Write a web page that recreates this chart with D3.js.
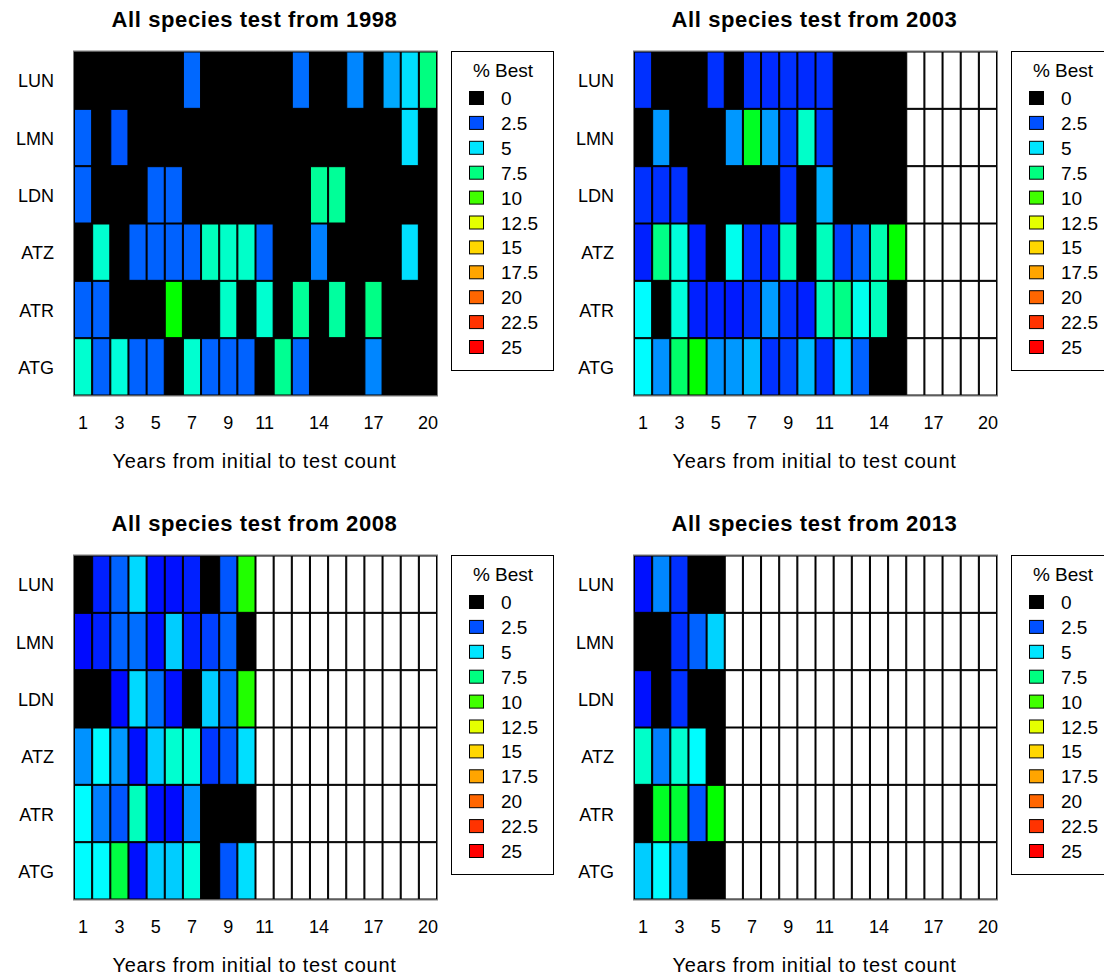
<!DOCTYPE html>
<html>
<head>
<meta charset="utf-8">
<script src="https://cdn.jsdelivr.net/npm/d3@7"></script>
<style>
  html, body { margin: 0; padding: 0; background: #fff; }
  svg { display: block; font-family: "Liberation Sans", Arial, sans-serif; }
</style>
</head>
<body>
<svg id="chart" width="1104" height="976"></svg>
<script>
// ---------- data ----------
const species = ["LUN", "LMN", "LDN", "ATZ", "ATR", "ATG"];
const years = [1,2,3,4,5,6,7,8,9,10,11,12,13,14,15,16,17,18,19,20];
const tickLabels = [1, 3, 5, 7, 9, 11, 14, 17, 20];
const startYears = [1998, 2003, 2008, 2013];
const legendValues = [0, 2.5, 5, 7.5, 10, 12.5, 15, 17.5, 20, 22.5, 25];
const legendColors = ["#000000", "#0050ff", "#00e5ff", "#00ff80", "#40ff00", "#e5ff00",
                      "#ffd700", "#ffa500", "#ff6600", "#ff3300", "#ff0000"];

// % best values, rows = species, columns = years 1..20 (null = no data)
const best1998 = [
  [0,0,0,0,0,0,2.9,0,0,0,0,0,3.0,0,0,3.4,0,4.0,4.9,7.5],
  [2.8,0,2.6,0,0,0,0,0,0,0,0,0,0,0,0,0,0,0,4.9,0],
  [2.8,0,0,0,2.8,2.8,0,0,0,0,0,0,0,7.1,7.1,0,0,0,0,0],
  [0,6.2,0,2.8,2.8,2.8,2.8,6.5,6.3,6.3,2.8,0,0,3.3,0,0,0,0,4.9,0],
  [2.8,2.8,0,0,0,9.2,0,0,6.3,0,6.2,0,7.1,0,7.0,0,7.4,0,0,0],
  [6.2,2.8,6.0,2.8,2.8,0,6.2,2.8,2.8,2.8,0,7.2,2.9,0,0,0,3.4,0,0,0]
];
const best2003 = [
  [1.5,0,0,0,1.5,0,1.5,1.3,1.5,1.3,1.5,0,0,0,0,null,null,null,null,null],
  [0,3.7,0,0,0,3.7,8.7,3.8,1.7,6.3,1.7,0,0,0,0,null,null,null,null,null],
  [1.5,1.5,1.5,0,0,0,0,0,1.5,0,4.1,0,0,0,0,null,null,null,null,null],
  [1.0,7.4,6.0,1.0,0,5.7,1.5,1.3,6.5,0,6.5,2.0,2.8,6.7,9.2,null,null,null,null,null],
  [5.4,0,6.0,1.0,1.0,0.8,1.5,3.8,1.5,1.0,6.5,7.4,5.7,6.5,0,null,null,null,null,null],
  [5.4,3.6,7.8,9.2,3.6,3.7,4.3,1.5,2.0,4.3,1.5,4.9,2.8,0,0,null,null,null,null,null]
];
const best2008 = [
  [0,1.0,2.8,4.8,0.5,0.5,1.0,0,2.6,9.6,null,null,null,null,null,null,null,null,null,null],
  [0.3,1.0,2.8,3.0,0.5,4.6,1.0,2.0,2.8,0,null,null,null,null,null,null,null,null,null,null],
  [0,0,0.3,4.8,3.0,0.5,0,4.6,2.8,9.6,null,null,null,null,null,null,null,null,null,null],
  [3.6,5.4,3.7,0.5,4.6,6.2,6.0,1.7,2.6,4.9,null,null,null,null,null,null,null,null,null,null],
  [5.4,3.3,2.6,6.5,0.5,0.3,3.6,0,0,0,null,null,null,null,null,null,null,null,null,null],
  [5.4,5.4,8.3,0.5,4.6,4.6,6.0,0,2.6,4.9,null,null,null,null,null,null,null,null,null,null]
];
const best2013 = [
  [0.5,3.4,1.5,0,0,null,null,null,null,null,null,null,null,null,null,null,null,null,null,null],
  [0,0,1.5,2.8,4.7,null,null,null,null,null,null,null,null,null,null,null,null,null,null,null],
  [0.5,0,1.5,0,0,null,null,null,null,null,null,null,null,null,null,null,null,null,null,null],
  [6.3,3.3,6.2,5.4,0,null,null,null,null,null,null,null,null,null,null,null,null,null,null,null],
  [0,8.7,8.5,2.6,9.2,null,null,null,null,null,null,null,null,null,null,null,null,null,null,null],
  [4.6,5.4,4.1,0,0,null,null,null,null,null,null,null,null,null,null,null,null,null,null,null]
];
const panelData = [best1998, best2003, best2008, best2013];

// ---------- colour ----------
const ramp = d3.scaleLinear()
  .domain(legendValues)
  .range(["#0000ff"].concat(legendColors.slice(1)))
  .interpolate(d3.interpolateHsl)
  .clamp(true);
function cellColor(v) {
  if (v === null || v === undefined) return "#ffffff";
  if (v === 0) return "#000000";
  return ramp(v);
}

// ---------- layout ----------
const svg = d3.select("#chart");
const plotW = 363, plotH = 344;
const panelOffsets = [[74, 51.5], [634, 51.5], [74, 555.5], [634, 555.5]];
const FONT = "Liberation Sans, Arial, sans-serif";

const x = d3.scaleBand().domain(years).range([0, plotW]);
const y = d3.scaleBand().domain(species).range([0, plotH]);

startYears.forEach((yr, p) => {
  const [ox, oy] = panelOffsets[p];
  const g = svg.append("g").attr("transform", `translate(${ox},${oy})`);
  const data = panelData[p];

  // title
  g.append("text")
    .attr("x", plotW / 2 - 1).attr("y", -24.5)
    .attr("text-anchor", "middle")
    .attr("font-weight", "bold").attr("font-size", 22)
    .attr("letter-spacing", 0.6)
    .attr("fill", "#000")
    .text("All species test from " + yr);

  // black underlay so cell seams stay solid
  g.append("rect")
    .attr("x", 0).attr("y", 0)
    .attr("width", plotW).attr("height", plotH)
    .attr("fill", "#000");

  // cells
  const cells = [];
  species.forEach((s, i) => years.forEach((c, j) => cells.push({ s, c, v: data[i][j] })));
  g.selectAll("rect.cell").data(cells).join("rect")
    .attr("class", "cell")
    .attr("x", d => x(d.c) + 0.5)
    .attr("y", d => y(d.s) + 0.5)
    .attr("width", x.bandwidth() - 1)
    .attr("height", y.bandwidth() - 1)
    .attr("fill", d => cellColor(d.v))
    .attr("stroke", "#000")
    .attr("stroke-width", 1);

  // frame
  g.append("rect")
    .attr("x", -0.5).attr("y", -0.5)
    .attr("width", plotW + 1).attr("height", plotH + 1)
    .attr("fill", "none").attr("stroke", "#7a7a7a").attr("stroke-width", 1);

  // y axis
  const ya = g.append("g").attr("transform", "translate(-20,1.5)")
    .call(d3.axisLeft(y).tickSize(0).tickPadding(0));
  ya.select(".domain").remove();
  ya.selectAll("text").attr("font-size", 18).attr("font-family", FONT).attr("fill", "#000");

  // x axis
  const xa = g.append("g").attr("transform", `translate(0,${plotH + 21})`)
    .call(d3.axisBottom(x).tickValues(tickLabels).tickSize(0).tickPadding(0));
  xa.select(".domain").remove();
  xa.selectAll("text").attr("font-size", 18).attr("font-family", FONT).attr("fill", "#000");

  // x title
  g.append("text")
    .attr("x", plotW / 2 - 1).attr("y", plotH + 72)
    .attr("text-anchor", "middle")
    .attr("font-size", 20).attr("letter-spacing", 0.7).attr("fill", "#000")
    .text("Years from initial to test count");

  // legend
  const lg = g.append("g").attr("transform", `translate(${plotW + 14},-0.5)`);
  lg.append("rect")
    .attr("x", 0.5).attr("y", 0.5)
    .attr("width", 102).attr("height", 319)
    .attr("fill", "#fff").attr("stroke", "#000").attr("stroke-width", 1);
  lg.append("text")
    .attr("x", 52).attr("y", 26)
    .attr("text-anchor", "middle")
    .attr("font-size", 19).attr("fill", "#000")
    .text("% Best");
  const items = lg.selectAll("g.item").data(legendValues).join("g")
    .attr("class", "item")
    .attr("transform", (d, i) => `translate(0,${47 + i * 24.9})`);
  items.append("rect")
    .attr("x", 18.5).attr("y", -6.5)
    .attr("width", 14).attr("height", 13)
    .attr("fill", (d, i) => legendColors[i])
    .attr("stroke", "#000").attr("stroke-width", 1);
  items.append("text")
    .attr("x", 50).attr("y", 7)
    .attr("font-size", 19).attr("fill", "#000")
    .text(d => d);
});
</script>
</body>
</html>
